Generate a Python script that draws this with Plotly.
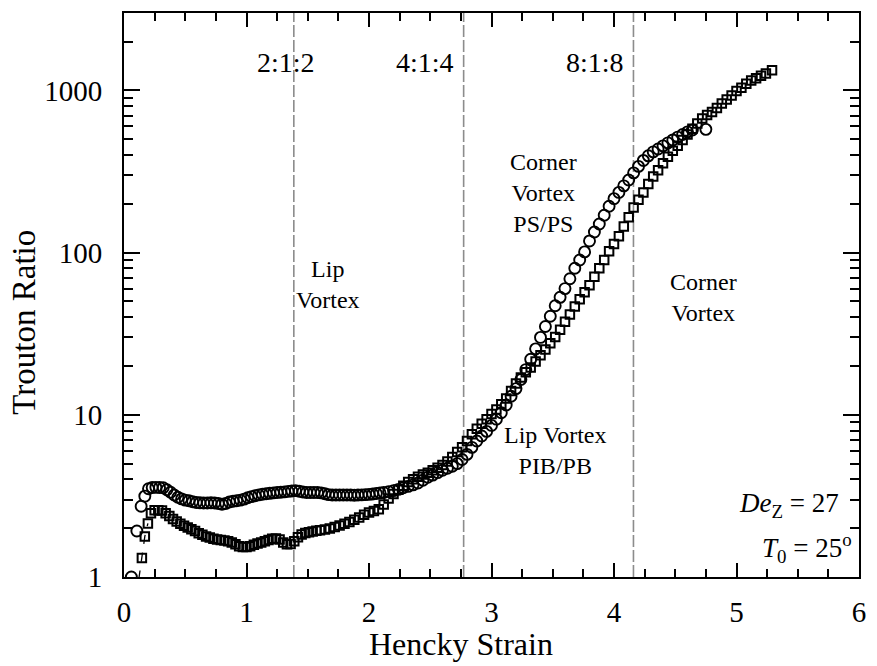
import numpy as np
import plotly.graph_objects as go

# Circles series (Hencky strain, Trouton ratio)
circ_x = [0.06, 0.105, 0.14, 0.17, 0.20, 0.23, 0.26, 0.29, 0.32, 0.35, 0.38, 0.41, 0.44, 0.47, 0.50,
          0.53, 0.56, 0.59, 0.62, 0.65, 0.68, 0.71, 0.74, 0.77, 0.80, 0.83, 0.86, 0.89, 0.92, 0.95,
          0.98, 1.01, 1.04, 1.07, 1.10, 1.13, 1.16, 1.19, 1.22, 1.25, 1.28, 1.31, 1.34, 1.37, 1.40,
          1.43, 1.46, 1.49, 1.52, 1.55, 1.58, 1.61, 1.64, 1.67, 1.70, 1.73, 1.76, 1.79, 1.82, 1.85,
          1.88, 1.91, 1.94, 1.97, 2.00, 2.03, 2.06, 2.09, 2.12, 2.16, 2.20, 2.24, 2.28, 2.32, 2.36,
          2.40, 2.44, 2.48, 2.52, 2.56, 2.60, 2.64, 2.68, 2.72, 2.76, 2.80, 2.84, 2.88, 2.92, 2.96,
          3.00, 3.04, 3.08, 3.12, 3.16, 3.20, 3.24, 3.28, 3.32, 3.36, 3.40, 3.44, 3.48, 3.52, 3.56,
          3.60, 3.64, 3.68, 3.72, 3.76, 3.80, 3.84, 3.88, 3.92, 3.96, 4.00, 4.04, 4.08, 4.12, 4.16,
          4.20, 4.24, 4.28, 4.32, 4.36, 4.40, 4.44, 4.48, 4.52, 4.56, 4.60, 4.64, 4.75]
circ_y = [1.00, 1.92, 2.73, 3.15, 3.50, 3.56, 3.57, 3.56, 3.55, 3.45, 3.33, 3.20, 3.10, 3.03, 2.98,
          2.95, 2.91, 2.88, 2.87, 2.86, 2.86, 2.87, 2.86, 2.84, 2.81, 2.84, 2.90, 2.93, 2.95, 2.98,
          3.02, 3.08, 3.13, 3.17, 3.21, 3.24, 3.26, 3.28, 3.30, 3.32, 3.33, 3.35, 3.37, 3.39, 3.41,
          3.38, 3.34, 3.32, 3.32, 3.32, 3.32, 3.30, 3.26, 3.22, 3.20, 3.20, 3.20, 3.20, 3.20, 3.20,
          3.19, 3.20, 3.21, 3.22, 3.23, 3.25, 3.27, 3.30, 3.32, 3.36, 3.41, 3.47, 3.55, 3.62, 3.70,
          3.80, 3.95, 4.12, 4.25, 4.40, 4.55, 4.68, 4.82, 5.00, 5.30, 5.70, 6.30, 6.90, 7.40, 7.90,
          8.60, 9.40, 10.3, 11.5, 13.0, 14.5, 16.5, 19.0, 22.0, 25.5, 30.0, 35.0, 40.5, 47.0, 53.0,
          60.0, 69.0, 80.0, 90.0, 101, 118, 134, 150, 170, 193, 215, 235, 258, 280, 310,
          340, 370, 395, 418, 435, 455, 475, 495, 515, 535, 555, 570, 575]

# Squares series
sq_x = [0.10, 0.146, 0.17, 0.195, 0.22, 0.25, 0.28, 0.31, 0.34, 0.37, 0.40, 0.43, 0.46, 0.49, 0.52,
        0.55, 0.58, 0.61, 0.64, 0.67, 0.70, 0.73, 0.76, 0.79, 0.82, 0.85, 0.88, 0.91, 0.94, 0.97,
        1.00, 1.03, 1.06, 1.09, 1.12, 1.15, 1.18, 1.21, 1.24, 1.27, 1.30, 1.33, 1.36, 1.39, 1.42,
        1.45, 1.48, 1.51, 1.54, 1.57, 1.60, 1.64, 1.68, 1.72, 1.76, 1.80, 1.84, 1.88, 1.92, 1.96,
        2.00, 2.04, 2.08, 2.12, 2.16, 2.20, 2.24, 2.28, 2.32, 2.36, 2.40, 2.44, 2.48, 2.52, 2.56,
        2.60, 2.64, 2.68, 2.72, 2.76, 2.80, 2.84, 2.88, 2.92, 2.96, 3.00, 3.04, 3.08, 3.12, 3.16,
        3.20, 3.24, 3.28, 3.32, 3.36, 3.40, 3.44, 3.48, 3.52, 3.56, 3.60, 3.64, 3.68, 3.72, 3.76,
        3.80, 3.84, 3.88, 3.92, 3.96, 4.00, 4.04, 4.08, 4.12, 4.16, 4.20, 4.24, 4.28, 4.32, 4.36,
        4.40, 4.44, 4.48, 4.52, 4.56, 4.60, 4.64, 4.68, 4.72, 4.76, 4.80, 4.84, 4.88, 4.92, 4.96,
        5.00, 5.04, 5.08, 5.12, 5.16, 5.20, 5.24, 5.29]
sq_y = [0.75, 1.31, 1.78, 2.14, 2.47, 2.58, 2.58, 2.57, 2.47, 2.38, 2.28, 2.20, 2.13, 2.07, 2.02,
        1.97, 1.92, 1.86, 1.82, 1.78, 1.75, 1.72, 1.70, 1.69, 1.68, 1.66, 1.63, 1.59, 1.55, 1.53,
        1.53, 1.55, 1.58, 1.61, 1.63, 1.66, 1.69, 1.72, 1.73, 1.70, 1.63, 1.59, 1.60, 1.66, 1.76,
        1.83, 1.87, 1.89, 1.91, 1.93, 1.94, 1.96, 1.99, 2.03, 2.08, 2.13, 2.18, 2.25, 2.33, 2.42,
        2.50, 2.55, 2.62, 2.80, 3.05, 3.25, 3.45, 3.65, 3.85, 4.00, 4.15, 4.28, 4.40, 4.55, 4.72,
        4.90, 5.15, 5.50, 5.90, 6.30, 6.90, 7.60, 8.20, 8.80, 9.40, 10.1, 10.8, 11.6, 12.6, 14.0,
        15.6, 17.0, 18.3, 19.6, 21.3, 23.3, 25.3, 27.6, 30.2, 33.5, 37.5, 41.5, 46.5, 51.5, 57.0,
        63.0, 71.0, 80.0, 90.0, 102, 113, 126, 145, 165, 190, 212, 235, 265, 295, 322,
        355, 390, 425, 455, 495, 535, 580, 625, 670, 705, 735, 780, 830, 880, 930,
        990, 1040, 1100, 1150, 1190, 1230, 1270, 1330]

# Contraction ratios and their Hencky strains ln(ratio)
contraction_labels = ["2:1:2", "4:1:4", "8:1:8"]
contraction_strains = [np.log(4), np.log(16), np.log(64)]

x_ticks = [0, 1, 2, 3, 4, 5, 6]
y_ticks = [1, 10, 100, 1000]
y_ticktext = ["1", "10", "100", "1000"]
y_minor = [m * d for d in [1, 10, 100] for m in range(2, 10)] + [2000, 3000]

FONT = '"Liberation Serif", "Times New Roman", Times, serif'

fig = go.Figure()

# dashed connecting line on the first squares
fig.add_trace(go.Scatter(x=sq_x[:4], y=sq_y[:4], mode="lines",
                         line=dict(color="black", width=1.3, dash="dash"),
                         showlegend=False, hoverinfo="skip"))
fig.add_trace(go.Scatter(x=sq_x, y=sq_y, mode="markers",
                         marker=dict(symbol="square-open", size=8.5, color="black",
                                     line=dict(width=2, color="black")),
                         showlegend=False))
fig.add_trace(go.Scatter(x=circ_x, y=circ_y, mode="markers",
                         marker=dict(symbol="circle-open", size=11, color="black",
                                     line=dict(width=1.9, color="black")),
                         showlegend=False))

for xs in contraction_strains:
    fig.add_shape(type="line", x0=xs, x1=xs, xref="x", y0=0, y1=1, yref="paper",
                  line=dict(color="#8c8c8c", width=1.6, dash="12px,3px"), layer="below")

label_pos = [0.178, 0.409, 0.641]
for lab, px in zip(contraction_labels, label_pos):
    fig.add_annotation(text=lab, x=px, y=0.943, xref="paper", yref="paper",
                       showarrow=False, font=dict(size=28, family=FONT, color="black"))

region_notes = [
    ("Lip<br>Vortex", 0.231, 0.519),
    ("Corner<br>Vortex<br>PS/PS", 0.571, 0.763),
    ("Corner<br>Vortex", 0.837, 0.495),
    ("Lip Vortex<br>PIB/PB", 0.587, 0.170),
]
for txt, px, py in region_notes:
    fig.add_annotation(text=txt, x=px, y=py, xref="paper", yref="paper", showarrow=False,
                       font=dict(size=24, family=FONT, color="black"), align="center")

fig.add_annotation(text="<i>De</i><sub>Z</sub> = 27", x=0.976, y=0.128, xref="paper", yref="paper",
                   xanchor="right", yanchor="middle", showarrow=False,
                   font=dict(size=27, family=FONT, color="black"))
fig.add_annotation(text="<i>T</i><sub>0</sub> = 25<sup>o</sup>", x=0.993, y=0.052, xref="paper",
                   yref="paper", xanchor="right", yanchor="middle", showarrow=False,
                   font=dict(size=27, family=FONT, color="black"))

# axis titles (placed as in the reference, slightly toward the origin)
fig.add_annotation(text="Hencky Strain", x=0.459, y=-0.118, xref="paper", yref="paper",
                   xanchor="center", yanchor="middle", showarrow=False,
                   font=dict(size=32, family=FONT, color="black"))
fig.add_annotation(text="Trouton Ratio", x=-0.1353, y=0.452, xref="paper", yref="paper",
                   xanchor="center", yanchor="middle", textangle=-90, showarrow=False,
                   font=dict(size=33, family=FONT, color="black"))

fig.update_layout(
    width=877, height=666,
    margin=dict(l=124, r=14, t=11, b=89),
    paper_bgcolor="white", plot_bgcolor="white",
    font=dict(family=FONT, color="black", size=28),
    showlegend=False,
)
fig.update_xaxes(
    range=[0, 6], tickvals=x_ticks, ticks="inside", ticklen=14, tickwidth=2, tickcolor="black",
    minor=dict(dtick=0.25, ticks="inside", ticklen=8, tickwidth=1.8, tickcolor="black", showgrid=False),
    showline=True, linewidth=2, linecolor="black", mirror="ticks", showgrid=False, zeroline=False,
    tickfont=dict(size=29, family=FONT), ticklabelstandoff=8,
)
fig.update_yaxes(
    type="log", range=[0, np.log10(3000)], tickvals=y_ticks, ticktext=y_ticktext,
    ticks="inside", ticklen=16, tickwidth=2, tickcolor="black",
    minor=dict(tickvals=y_minor, ticks="inside", ticklen=9, tickwidth=1.8, tickcolor="black", showgrid=False),
    showline=True, linewidth=2, linecolor="black", mirror="ticks", showgrid=False, zeroline=False,
    tickfont=dict(size=29, family=FONT), ticklabelstandoff=14,
)

fig.write_html("out.html")
